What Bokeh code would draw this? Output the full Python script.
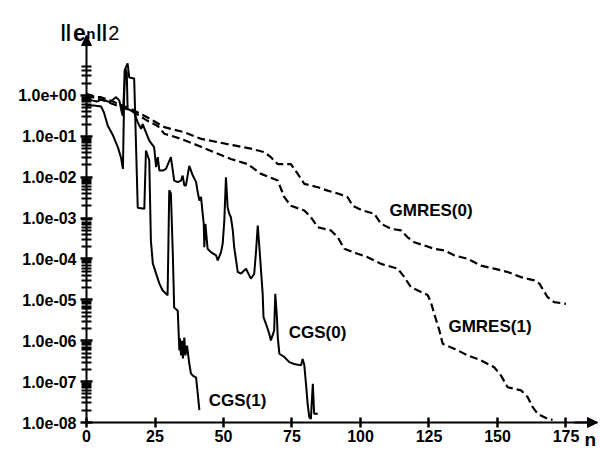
from bokeh.plotting import figure
from bokeh.models import (Range1d, FixedTicker, CustomJSTickFormatter, Arrow, NormalHead, Label,
                          ColumnDataSource, LinearAxis, LogAxis)
from bokeh.embed import file_html
from bokeh.resources import INLINE
from bokeh.core.properties import value

# ---------------- data ----------------
cgs1_n = [0, 2.7, 5.3, 6.4, 7.8, 9.7, 11.5, 12.6, 13.3, 13.9, 15.0, 15.6, 17.4, 18.7, 21.1, 21.7, 22.9,
          23.5, 24.2, 25.4, 26.6, 27.8, 29.6, 30.2, 30.8, 31.5, 32.0, 33.3, 33.9, 34.1, 34.5, 34.9, 35.2,
          35.7, 36.1, 36.7, 37.5, 38.1, 38.8, 40.0, 40.6, 41.2]
cgs1_e = [0.57, 0.57, 0.54, 0.38, 0.18, 0.105, 0.053, 0.030, 0.016, 4.1, 6.1, 2.75, 2.6, 1.8e-3, 1.7e-3,
          4.5e-2, 2.6e-2, 2.8e-4, 7.8e-5, 4.4e-5, 2.5e-5, 1.7e-5, 1.3e-5, 4.8e-3, 4.0e-3, 1.36e-4, 6.5e-6,
          5.4e-6, 5.8e-7, 1.14e-6, 4.4e-7, 1.0e-6, 3.7e-7, 1.2e-6, 4.4e-7, 7.6e-7, 2.8e-7, 1.6e-7, 1.4e-7,
          1.25e-7, 5.1e-8, 2.0e-8]

cgs0_n = [0, 2.3, 3.8, 5.3, 7.1, 8.3, 9.7, 10.8, 12.0, 12.6,
          13.2, 14.2, 14.7, 15.0, 16.2, 17.4, 18.7, 19.9, 20.5, 21.7,
          22.9, 24.2, 24.7, 25.4, 26.0, 26.6, 27.8, 29.0, 30.8, 31.5,
          32.0, 33.3, 34.5, 35.1, 35.7, 36.3, 37.5, 38.8, 40.0, 40.6,
          41.2, 41.8, 42.4, 42.8, 43.0, 43.4, 44.2, 45.4, 47.3, 47.9,
          49.1, 49.7, 50.3, 50.9, 51.5, 52.1, 52.7, 53.4, 53.9, 54.6,
          55.2, 56.4, 58.2, 58.8, 60.0, 61.2, 61.9, 62.5, 63.1, 63.7,
          64.3, 64.6, 65.5, 66.7, 67.3, 68.5, 68.9, 69.5, 69.8, 70.4,
          72.2, 74.0, 75.8, 78.3, 78.9, 79.5, 80.1, 80.7, 81.3, 81.9,
          82.6, 83.1, 84.4]
cgs0_e = [0.83, 0.75, 0.71, 0.79, 0.75, 0.69, 0.80, 0.91, 0.75, 0.47,
          0.32, 4.5, 3.7, 0.47, 0.43, 0.39, 0.22, 0.153, 0.20, 0.126,
          0.079, 0.060, 0.054, 0.0176, 0.031, 0.0146, 0.0146, 0.016, 0.031, 0.0146,
          8.3e-3, 7.6e-3, 8.3e-3, 0.011, 6.3e-3, 6.3e-3, 0.019, 0.011, 7.6e-3, 4.3e-3,
          2.7e-3, 3.3e-3, 1.28e-3, 7.2e-4, 1.94e-4, 7.2e-4, 1.78e-4, 1.47e-4, 1.22e-4, 9.2e-5,
          1.47e-4, 2.35e-4, 8.7e-4, 1.0e-2, 1.85e-3, 1.28e-3, 1.05e-3, 5.0e-4, 1.94e-4, 9.2e-5,
          4.8e-5, 4.4e-5, 5.8e-5, 4.8e-5, 3.3e-5, 4.3e-5, 1.6e-4, 6.6e-4, 1.94e-4, 5.2e-5,
          1.4e-5, 3.8e-6, 2.6e-6, 1.48e-6, 1.02e-6, 1.78e-6, 1.4e-5, 3.8e-6, 1.23e-6, 4.8e-7,
          4.0e-7, 3.0e-7, 2.7e-7, 2.5e-7, 3.6e-7, 2.5e-7, 8.9e-8, 2.9e-8, 1.35e-8, 1.23e-8,
          8.9e-8, 1.63e-8, 1.63e-8]

gmres0_n = [0, 3.5, 5.3, 10.1, 16.2, 22.3, 28.4, 35.7, 41.8, 47.9,
            53.9, 60.0, 64.9, 67.3, 69.8, 74.6, 77.1, 79.5, 84.4, 88.0,
            92.3, 95.3, 97.2, 100.8, 105.0, 107.5, 111.1, 114.8, 117.2, 119.6,
            123.3, 126.9, 130.6, 134.2, 139.1, 144.0, 148.8, 153.7, 158.6, 163.4,
            165.3, 168.3, 170.7, 175.0]
gmres0_e = [1.1, 0.91, 0.91, 0.69, 0.47, 0.29, 0.168, 0.126, 0.087, 0.072,
            0.060, 0.050, 0.041, 0.031, 0.021, 0.021, 0.0121, 6.9e-3, 5.7e-3, 4.7e-3,
            3.9e-3, 3.25e-3, 2.0e-3, 1.54e-3, 1.28e-3, 7.3e-4, 5.5e-4, 5.0e-4, 3.4e-4, 2.57e-4,
            2.14e-4, 1.78e-4, 1.62e-4, 1.23e-4, 1.01e-4, 6.9e-5, 5.8e-5, 4.8e-5, 3.6e-5, 3.0e-5,
            2.5e-5, 1.16e-5, 8.8e-6, 8.0e-6]

gmres1_n = [0, 5.3, 10.1, 16.2, 22.3, 26.0, 28.4, 34.5, 40.6, 46.6,
            52.7, 58.8, 61.2, 63.7, 69.8, 72.2, 74.6, 79.5, 81.9, 84.4,
            89.2, 91.7, 94.1, 99.0, 102.6, 107.5, 113.6, 116.0, 118.4, 122.1,
            124.5, 125.7, 126.9, 128.8, 130.0, 134.2, 139.1, 144.0, 148.8, 151.3,
            153.7, 156.1, 158.6, 161.0, 162.8, 164.7, 168.3, 170.1]
gmres1_e = [1.0, 0.80, 0.60, 0.43, 0.24, 0.18, 0.116, 0.087, 0.060, 0.041,
            0.028, 0.021, 0.016, 0.0121, 8.3e-3, 3.25e-3, 2.0e-3, 1.54e-3, 1.05e-3, 6.0e-4,
            5.0e-4, 3.4e-4, 1.78e-4, 1.34e-4, 1.11e-4, 7.6e-5, 5.8e-5, 3.6e-5, 2.04e-5, 1.55e-5,
            1.32e-5, 8.8e-6, 4.6e-6, 1.78e-6, 8.4e-7, 6.4e-7, 4.4e-7, 3.3e-7, 2.25e-7, 1.4e-7,
            7.3e-8, 6.7e-8, 6.1e-8, 4.2e-8, 2.4e-8, 1.63e-8, 1.23e-8, 1.16e-8]

x_ticks = [0, 25, 50, 75, 100, 125, 150, 175]
y_ticks = [1e-8, 1e-7, 1e-6, 1e-5, 1e-4, 1e-3, 1e-2, 1e-1, 1e0]
y_tick_labels = ["1.0e-08", "1.0e-07", "1.0e-06", "1.0e-05", "1.0e-04",
                 "1.0e-03", "1.0e-02", "1.0e-01", "1.0e+00"]
y_minor_ticks = [k * 10.0 ** d for d in range(-8, 0) for k in range(2, 10)] + [2.0, 3.0, 4.0, 5.0]

curve_names = ["GMRES(0)", "GMRES(1)", "CGS(0)", "CGS(1)"]
curve_label_n = [110.6, 132.1, 73.8, 44.6]
curve_label_e = [1.58e-3, 2.17e-6, 1.55e-6, 3.55e-8]

# ---------------- figure ----------------
FONT = "Liberation Sans"
p = figure(width=600, height=450,
           x_range=Range1d(-31.39, 187.6), y_range=Range1d(10 ** -8.685, 10 ** 2.324),
           y_axis_type="log", x_axis_location=None, y_axis_location=None,
           output_backend="svg", toolbar_location=None,
           min_border_left=0, min_border_right=0, min_border_top=0, min_border_bottom=0)
p.xgrid.visible = False
p.ygrid.visible = False
p.outline_line_color = None
p.background_fill_color = "white"
p.border_fill_color = "white"

ya = LogAxis(fixed_location=0,
             ticker=FixedTicker(ticks=y_ticks, minor_ticks=y_minor_ticks),
             major_tick_in=6, major_tick_out=6, minor_tick_in=5, minor_tick_out=5,
             major_tick_line_width=2.5, minor_tick_line_width=2,
             major_tick_line_color="black", minor_tick_line_color="black",
             major_label_standoff=4, bounds=(1e-8, 10 ** 1.468))
xa = LinearAxis(fixed_location=1e-8,
                ticker=FixedTicker(ticks=x_ticks),
                major_tick_in=5, major_tick_out=5, minor_tick_in=0, minor_tick_out=0,
                major_tick_line_width=2.5, major_tick_line_color="black",
                major_label_standoff=2, bounds=(0, 186.5))

for ax in (xa, ya):
    ax.axis_line_width = 2
    ax.axis_line_color = "black"
    ax.major_label_text_font = FONT
    ax.major_label_text_font_style = "bold"
    ax.major_label_text_font_size = "16px"
    ax.major_label_text_color = "black"

ya.formatter = CustomJSTickFormatter(args=dict(tv=y_ticks, tl=y_tick_labels), code="""
    for (let i = 0; i < tv.length; i++) {
        if (Math.abs(Math.log10(tv[i]) - Math.log10(tick)) < 1e-6) { return tl[i]; }
    }
    return "";
""")

p.add_layout(ya, "left")
p.add_layout(xa, "below")

# axis arrow heads
p.add_layout(Arrow(end=NormalHead(size=10, fill_color="black", line_color="black", line_width=1),
                   x_start=0, y_start=10 ** 1.2, x_end=0, y_end=10 ** 1.468, line_width=2))
p.add_layout(Arrow(end=NormalHead(size=10, fill_color="black", line_color="black", line_width=1),
                   x_start=178, y_start=1e-8, x_end=186.5, y_end=1e-8, line_width=2))

# curves
p.line(cgs1_n, cgs1_e, line_color="black", line_width=2)
p.line(cgs0_n, cgs0_e, line_color="black", line_width=2)
p.line(gmres0_n, gmres0_e, line_color="black", line_width=2.2, line_dash="8 4")
p.line(gmres1_n, gmres1_e, line_color="black", line_width=2.2, line_dash="8 4")

lab_src = ColumnDataSource(dict(x=curve_label_n, y=curve_label_e, t=curve_names))
p.text(x="x", y="y", text="t", source=lab_src, text_font=value(FONT), text_font_style="bold",
       text_font_size="17px", text_align="left", text_baseline="middle", text_color="black")

# y-axis title  ||e_n||_2
title_parts = [("||", -9.49, 38.9, "19px", "bold"),
               ("e", -4.9, 34.8, "23px", "bold"),
               ("n", -0.1, 32.9, "15px", "bold"),
               ("||", 3.6, 38.9, "19px", "bold"),
               ("2", 7.9, 32.9, "20px", "normal")]
for t, xx, yy, fs, st in title_parts:
    p.add_layout(Label(x=xx, y=yy, text=t, text_font=FONT, text_font_size=fs, text_font_style=st,
                       text_color="black", text_align="left", text_baseline="alphabetic"))

# x-axis name
p.add_layout(Label(x=181.8, y=3.8e-9, text="n", text_font=FONT, text_font_size="19px",
                   text_font_style="bold", text_color="black", text_align="left",
                   text_baseline="alphabetic"))

open("out.html", "w").write(file_html(p, INLINE))
